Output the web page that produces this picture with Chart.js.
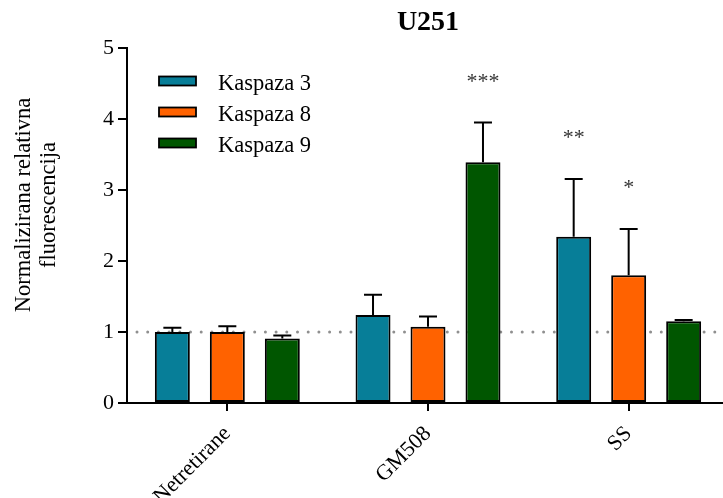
<!DOCTYPE html>
<html lang="hr">
<head>
<meta charset="UTF-8">
<title>U251</title>
<style>
    body { margin: 0; background: #fff; overflow: hidden; }
    #chart { display: block; }
</style>
<script src="https://cdn.jsdelivr.net/npm/chart.js"></script>
</head>
<body>
<canvas id="chart" width="730" height="498"></canvas>
<script>
// podaci
var categories = ["Netretirane", "GM508", "SS"];
var seriesNames = ["Kaspaza 3", "Kaspaza 8", "Kaspaza 9"];
var kaspaza3 = [1.00, 1.24, 2.34];
var kaspaza8 = [1.00, 1.075, 1.80];
var kaspaza9 = [0.91, 3.39, 1.15];
var err3 = [0.06, 0.285, 0.815];
var err8 = [0.08, 0.145, 0.65];
var err9 = [0.04, 0.56, 0.02];
var sig3 = ["", "", "**"];
var sig8 = ["", "", "*"];
var sig9 = ["", "***", ""];
var yTicks = [0, 1, 2, 3, 4, 5];
var colors = ["#077e98", "#ff6200", "#005600"];

var serif = "'Liberation Serif', 'Times New Roman', serif";

var values = [kaspaza3, kaspaza8, kaspaza9];
var errors = [err3, err8, err9];
var sigs = [sig3, sig8, sig9];

// tockasta linija na y = 1
var refLine = {
    id: "refLine",
    beforeDatasetsDraw: function (chart) {
        var ctx = chart.ctx, a = chart.chartArea;
        var y = chart.scales.y.getPixelForValue(1);
        ctx.save();
        ctx.strokeStyle = "#8f8f8f";
        ctx.lineWidth = 3;
        ctx.lineCap = "round";
        ctx.setLineDash([0, 10.7]);
        ctx.beginPath();
        ctx.moveTo(a.left + 10, y);
        ctx.lineTo(a.right, y);
        ctx.stroke();
        ctx.restore();
    }
};

// error barovi + zvjezdice + legenda + naslovi
var extras = {
    id: "extras",
    afterDatasetsDraw: function (chart) {
        var ctx = chart.ctx, ys = chart.scales.y, a = chart.chartArea;
        ctx.save();
        chart.data.datasets.forEach(function (ds, i) {
            var meta = chart.getDatasetMeta(i);
            meta.data.forEach(function (bar, j) {
                var top = ys.getPixelForValue(values[i][j] + errors[i][j]);
                ctx.strokeStyle = "#000";
                ctx.lineWidth = 2;
                ctx.beginPath();
                ctx.moveTo(bar.x, bar.y);
                ctx.lineTo(bar.x, top);
                ctx.moveTo(bar.x - 9, top);
                ctx.lineTo(bar.x + 9, top);
                ctx.stroke();
                if (sigs[i][j]) {
                    ctx.fillStyle = "#333";
                    ctx.font = "22px " + serif;
                    ctx.textAlign = "center";
                    ctx.textBaseline = "alphabetic";
                    ctx.fillText(sigs[i][j], bar.x, top - 35);
                }
            });
        });

        // legenda
        ctx.font = "22.5px " + serif;
        ctx.textAlign = "left";
        ctx.textBaseline = "alphabetic";
        seriesNames.forEach(function (name, i) {
            var y = 81 + i * 31;
            ctx.fillStyle = colors[i];
            ctx.fillRect(159, y - 4.5, 37, 9);
            ctx.strokeStyle = "#000";
            ctx.lineWidth = 1.8;
            ctx.strokeRect(159, y - 4.5, 37, 9);
            ctx.fillStyle = "#000";
            ctx.fillText(name, 218, y + 9);
        });

        // naslov
        ctx.font = "bold 28px " + serif;
        ctx.textAlign = "center";
        ctx.fillText("U251", (a.left + a.right) / 2, 30);

        // naslov y osi
        ctx.font = "22.5px " + serif;
        ctx.textBaseline = "middle";
        ctx.translate(0, 205);
        ctx.rotate(-Math.PI / 2);
        ctx.fillText("Normalizirana relativna", 0, 24);
        ctx.fillText("fluorescencija", 0, 49);
        ctx.restore();
    }
};

var ctx = document.getElementById("chart").getContext("2d");
new Chart(ctx, {
    type: "bar",
    data: {
        labels: categories,
        datasets: seriesNames.map(function (name, i) {
            return {
                label: name,
                data: values[i],
                backgroundColor: colors[i],
                borderColor: "#000",
                borderWidth: 2,
                borderSkipped: false,
                categoryPercentage: 0.822,
                barPercentage: 0.636
            };
        })
    },
    options: {
        responsive: false,
        animation: false,
        devicePixelRatio: 1,
        layout: { padding: { top: 48, right: 1, left: 0, bottom: 0 } },
        plugins: {
            legend: { display: false },
            title: { display: false },
            tooltip: { enabled: false }
        },
        scales: {
            x: {
                offset: true,
                grid: { display: true, offset: false, drawOnChartArea: false, drawTicks: true, tickLength: 8, color: "#000", lineWidth: 2 },
                border: { display: true, color: "#000", width: 2 },
                ticks: {
                    color: "#000",
                    font: { family: serif, size: 22 },
                    minRotation: 45,
                    maxRotation: 45,
                    padding: 10
                },
                afterFit: function (s) { s.height = 95; }
            },
            y: {
                min: 0,
                max: 5,
                afterBuildTicks: function (s) { s.ticks = yTicks.map(function (v) { return { value: v }; }); },
                grid: { display: true, drawOnChartArea: false, drawTicks: true, tickLength: 9, color: "#000", lineWidth: 2 },
                border: { display: true, color: "#000", width: 2 },
                ticks: {
                    color: "#000",
                    font: { family: serif, size: 22 },
                    padding: 4
                },
                afterFit: function (s) { s.width = 127; }
            }
        }
    },
    plugins: [refLine, extras]
});
</script>
</body>
</html>
